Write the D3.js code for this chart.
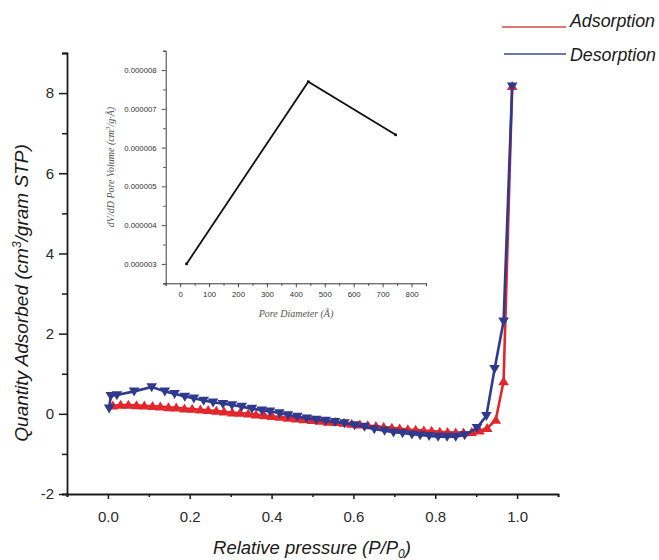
<!DOCTYPE html>
<html>
<head>
<meta charset="utf-8">
<script src="https://cdn.jsdelivr.net/npm/d3@7"></script>
<style>
  html, body { margin: 0; padding: 0; background: #fff; }
  svg { display: block; }
</style>
</head>
<body>
<svg id="chart" width="659" height="560"></svg>
<script>
// Adsorption branch (increasing P/P0)
const adsP = [0.012,0.031,0.050,0.070,0.089,0.109,0.128,0.148,0.167,0.187,0.206,0.226,0.245,0.265,0.284,0.304,0.323,0.343,0.362,0.382,0.401,0.421,0.440,0.460,0.479,0.499,0.518,0.538,0.557,0.577,0.596,0.616,0.635,0.655,0.674,0.694,0.713,0.733,0.752,0.772,0.791,0.811,0.830,0.850,0.869,0.889,0.908,0.927,0.948,0.967,0.988];
const adsQ = [0.20,0.22,0.22,0.21,0.20,0.19,0.18,0.16,0.15,0.13,0.12,0.10,0.09,0.07,0.05,0.03,0.02,0.00,-0.02,-0.04,-0.06,-0.08,-0.10,-0.12,-0.14,-0.16,-0.18,-0.20,-0.21,-0.23,-0.25,-0.27,-0.29,-0.31,-0.33,-0.35,-0.37,-0.39,-0.40,-0.42,-0.43,-0.45,-0.46,-0.47,-0.47,-0.46,-0.42,-0.36,-0.15,0.81,8.17];

// Desorption branch (decreasing P/P0)
const desP = [0.988,0.967,0.945,0.925,0.902,0.872,0.850,0.829,0.807,0.785,0.763,0.743,0.720,0.698,0.676,0.651,0.627,0.603,0.578,0.555,0.532,0.509,0.486,0.463,0.440,0.419,0.396,0.376,0.352,0.327,0.303,0.281,0.257,0.234,0.210,0.188,0.163,0.139,0.107,0.064,0.022,0.007,0.003];
const desQ = [8.17,2.31,1.12,-0.05,-0.35,-0.53,-0.57,-0.57,-0.57,-0.55,-0.53,-0.51,-0.48,-0.46,-0.42,-0.38,-0.32,-0.28,-0.23,-0.20,-0.17,-0.14,-0.11,-0.07,-0.03,0.02,0.06,0.09,0.13,0.18,0.22,0.25,0.29,0.33,0.39,0.43,0.50,0.56,0.67,0.56,0.47,0.45,0.14];

// Pore size distribution (inset)
const poreDiam = [22, 443, 745];
const poreVol = [0.0000030, 0.0000077, 0.00000633];

const xTicksMain = [0.0, 0.2, 0.4, 0.6, 0.8, 1.0];
const yTicksMain = [-2, 0, 2, 4, 6, 8];
const xTicksInset = [0, 100, 200, 300, 400, 500, 600, 700, 800];
const yTicksInset = [0.000003, 0.000004, 0.000005, 0.000006, 0.000007, 0.000008];

const seriesNames = ["Adsorption", "Desorption"];
const RED = "#e3262b", BLUE = "#2f3a8f";

const svg = d3.select("#chart");
const sans = "'Liberation Sans', Arial, sans-serif";
const serif = "'Liberation Serif', 'Times New Roman', serif";

// ---------- main isotherm ----------
const x = d3.scaleLinear().domain([-0.1, 1.1]).range([67, 558]);
const y = d3.scaleLinear().domain([-2, 9]).range([494, 53]);

const axisColor = "#1a1a1a";
const intHyphen = d => String(d);  // plain hyphen for negatives

// minor ticks
const gx = svg.append("g").attr("transform", "translate(0,494)");
gx.call(d3.axisBottom(x).tickValues(d3.range(-0.1, 1.15, 0.2)).tickSize(3).tickFormat(""));
gx.append("g").call(d3.axisBottom(x).tickValues(xTicksMain).tickSize(5).tickPadding(12).tickFormat(d3.format(".1f")));
gx.selectAll("g > g > path.domain").remove();
gx.selectAll("path.domain").attr("stroke", axisColor).attr("stroke-width", 1.8);
gx.selectAll(".tick line").attr("stroke", axisColor).attr("stroke-width", 1.5);
gx.selectAll(".tick text").attr("font-family", sans).attr("font-size", 15).attr("fill", "#2a2a2a");

const gy = svg.append("g").attr("transform", "translate(67,0)");
gy.call(d3.axisLeft(y).tickValues([-1, 1, 3, 5, 7, 9]).tickSize(5).tickFormat(""));
gy.append("g").call(d3.axisLeft(y).tickValues(yTicksMain).tickSize(8).tickPadding(5).tickFormat(intHyphen));
gy.selectAll("g > g > path.domain").remove();
gy.selectAll("path.domain").attr("stroke", axisColor).attr("stroke-width", 1.8);
gy.selectAll(".tick line").attr("stroke", axisColor).attr("stroke-width", 1.5);
gy.selectAll(".tick text").attr("font-family", sans).attr("font-size", 15).attr("fill", "#2a2a2a");

// axis titles
const xt = svg.append("text")
  .attr("x", 312).attr("y", 554)
  .attr("text-anchor", "middle")
  .attr("font-family", sans).attr("font-style", "italic").attr("font-size", 18.5)
  .attr("fill", "#1a1a1a");
xt.append("tspan").text("Relative pressure (P/P");
xt.append("tspan").attr("font-size", 12).attr("dy", 4).text("0");
xt.append("tspan").attr("dy", -4).text(")");

const yt = svg.append("text")
  .attr("transform", "translate(28,293) rotate(-90)")
  .attr("text-anchor", "middle")
  .attr("font-family", sans).attr("font-style", "italic").attr("font-size", 19)
  .attr("fill", "#1a1a1a");
yt.append("tspan").text("Quantity Adsorbed (cm");
yt.append("tspan").attr("font-size", 12).attr("dy", -7).text("3");
yt.append("tspan").attr("dy", 7).text("/gram STP)");

// series
const ads = adsP.map((p, i) => [p, adsQ[i]]);
const des = desP.map((p, i) => [p, desQ[i]]);
const line = d3.line().x(d => x(d[0])).y(d => y(d[1]));

const upTri = "M0,-5.2L5.3,3.8L-5.3,3.8Z";
const downTri = "M0,5.2L5.3,-3.8L-5.3,-3.8Z";

function drawSeries(data, color, shape) {
  const g = svg.append("g");
  g.append("path").attr("d", line(data)).attr("fill", "none")
    .attr("stroke", color).attr("stroke-width", 2.6).attr("stroke-linejoin", "round");
  g.selectAll("path.m").data(data).join("path").attr("class", "m")
    .attr("d", shape)
    .attr("transform", d => `translate(${x(d[0])},${y(d[1])})`)
    .attr("fill", color);
}
drawSeries(ads, RED, upTri);
drawSeries(des, BLUE, downTri);

// legend
const legend = svg.append("g");
const legendRows = [
  { name: seriesNames[0], color: "#d2484a", x1: 502, ly: 27, ty: 27 },
  { name: seriesNames[1], color: "#3a4898", x1: 504, ly: 54, ty: 61 }
];
legendRows.forEach(r => {
  legend.append("line").attr("x1", r.x1).attr("x2", 566).attr("y1", r.ly).attr("y2", r.ly)
    .attr("stroke", r.color).attr("stroke-width", 1.3);
  legend.append("text").attr("x", 570).attr("y", r.ty)
    .attr("font-family", sans).attr("font-style", "italic").attr("font-size", 17.8)
    .attr("fill", "#1a1a1a").text(r.name);
});

// ---------- inset: pore size distribution ----------
const xi = d3.scaleLinear().domain([-50, 850]).range([165.7, 426]);
const yi = d3.scaleLinear().domain([0.0000025, 0.0000085]).range([283.3, 50.7]);
const insetColor = "#3a3a3a";

const gxi = svg.append("g").attr("transform", "translate(0,283.3)");
gxi.call(d3.axisBottom(xi).tickValues(d3.range(-50, 851, 100)).tickSize(2.5).tickFormat(""));
gxi.append("g").call(d3.axisBottom(xi).tickValues(xTicksInset).tickSize(4).tickPadding(4).tickFormat(d3.format("d")));
const gyi = svg.append("g").attr("transform", "translate(165.7,0)");
gyi.call(d3.axisLeft(yi).tickValues([0.0000025,0.0000035,0.0000045,0.0000055,0.0000065,0.0000075,0.0000085]).tickSize(2.5).tickFormat(""));
gyi.append("g").call(d3.axisLeft(yi).tickValues(yTicksInset).tickSize(4).tickPadding(5).tickFormat(d3.format(".6f")));
[gxi, gyi].forEach(g => {
  g.selectAll("g > g > path.domain").remove();
  g.selectAll("path.domain").attr("stroke", insetColor).attr("stroke-width", 1);
  g.selectAll(".tick line").attr("stroke", insetColor).attr("stroke-width", 0.9);
  g.selectAll(".tick text").attr("font-family", sans).attr("font-size", 7.8).attr("fill", "#333");
});

svg.append("text")
  .attr("x", 296).attr("y", 317)
  .attr("text-anchor", "middle")
  .attr("font-family", serif).attr("font-style", "italic").attr("font-size", 10)
  .attr("fill", "#555").text("Pore Diameter (Å)");

const yti = svg.append("text")
  .attr("transform", "translate(114,167) rotate(-90)")
  .attr("text-anchor", "middle")
  .attr("font-family", serif).attr("font-style", "italic").attr("font-size", 10)
  .attr("fill", "#555");
yti.append("tspan").text("dV/dD Pore Volume (cm");
yti.append("tspan").attr("font-size", 7).attr("dy", -4).text("3");
yti.append("tspan").attr("dy", 4).text("/g·Å)");

const pore = poreDiam.map((d, i) => [d, poreVol[i]]);
svg.append("path")
  .attr("d", d3.line().x(d => xi(d[0])).y(d => yi(d[1]))(pore))
  .attr("fill", "none").attr("stroke", "#111").attr("stroke-width", 1.8);
svg.append("g").selectAll("rect").data(pore).join("rect")
  .attr("x", d => xi(d[0]) - 1.3).attr("y", d => yi(d[1]) - 1.3)
  .attr("width", 2.6).attr("height", 2.6).attr("fill", "#111");
</script>
</body>
</html>
